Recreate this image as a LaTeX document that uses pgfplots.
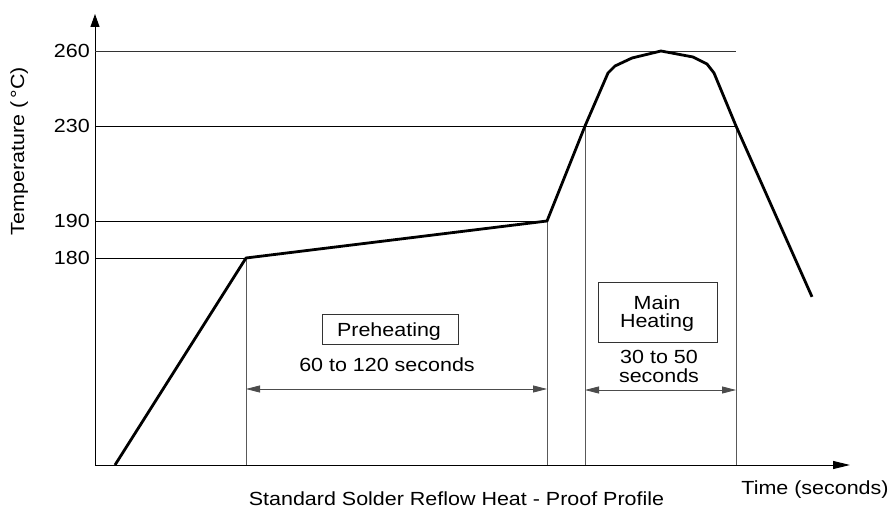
\documentclass[border=0pt]{standalone}
\usepackage{fontspec}
\setmainfont{Liberation Sans}[FakeStretch=1.13]
\usepackage{pgfplots}
\pgfplotsset{compat=1.18}
\usetikzlibrary{arrows.meta}

\begin{document}
\begin{tikzpicture}[font=\fontsize{19pt}{22pt}\selectfont]
\path[use as bounding box] (0,0) rectangle (890pt,-510pt);
\begin{axis}[
  at={(95pt,-465pt)}, anchor=south west,
  scale only axis, width=755pt, height=451pt,
  xmin=95, xmax=850, ymin=124.054, ymax=274.8,
  y coord trafo/.code={\pgfmathparse{#1<190 ? 207+(#1-180)*3.7 : (#1<230 ? 244+(#1-190)*2.375 : 339+(#1-230)*2.5)}},
  axis lines=left,
  x axis line style={line width=1pt, -{Triangle[length=17pt,width=8pt]}},
  y axis line style={line width=1pt, -{Triangle[length=13pt,width=9pt]}},
  xtick=\empty,
  ytick={180,190,230,260}, yticklabels={180,190,230,260},
  major tick length=0pt,
  yticklabel style={inner sep=0pt, anchor=east, xshift=-5pt},
  /pgf/number format/assume math mode=true,
  clip=false,
]
% horizontal guide lines
\addplot[black!80, line width=0.8pt, forget plot] coordinates {(95,260) (736,260)};
\addplot[black, line width=0.8pt, forget plot] coordinates {(95,230) (736,230)};
\addplot[black, line width=0.8pt, forget plot] coordinates {(95,190) (547,190)};
\addplot[black, line width=0.8pt, forget plot] coordinates {(95,180) (246,180)};
% vertical guide lines
\addplot[black!65, line width=0.8pt, forget plot] coordinates {(246,180) (246,124.054)};
\addplot[black!65, line width=0.8pt, forget plot] coordinates {(547,190) (547,124.054)};
\addplot[black!65, line width=0.8pt, forget plot] coordinates {(585,230) (585,124.054)};
\addplot[black!65, line width=0.8pt, forget plot] coordinates {(736,230) (736,124.054)};
% reflow profile
\addplot[black, line width=2.8pt, line join=round] coordinates {
  (115,124.054) (246,180) (547,190) (585,230) (608,251.2) (615,254)
  (632,257.2) (661,260) (693,257.6) (707,254.8) (714,251.2) (736,230) (812,169.5)
};
\end{axis}
% dimension arrows
\draw[black!70, line width=0.8pt, {Triangle[length=14pt,width=7pt]}-{Triangle[length=14pt,width=7pt]}] (246pt,-389pt) -- (547pt,-389pt);
\draw[black!70, line width=0.8pt, {Triangle[length=14pt,width=7pt]}-{Triangle[length=14pt,width=7pt]}] (585pt,-390pt) -- (736pt,-390pt);
% boxes
\draw[black!80, line width=0.8pt] (322pt,-314pt) rectangle (458pt,-344pt);
\node[anchor=base] at (389pt,-336pt) {Preheating};
\node[anchor=base] at (387pt,-371pt) {60 to 120 seconds};
\draw[black!80, line width=0.8pt] (598pt,-282pt) rectangle (717pt,-342pt);
\node[anchor=base] at (657pt,-309pt) {Main};
\node[anchor=base] at (657pt,-327pt) {Heating};
\node[anchor=base] at (659pt,-363pt) {30 to 50};
\node[anchor=base] at (659pt,-382pt) {seconds};
% axis titles
\node[anchor=base] at (815pt,-494pt) {Time (seconds)};
\node[anchor=base] at (456.5pt,-505pt) {Standard Solder Reflow Heat - Proof Profile};
\node[rotate=90, anchor=base] at (24pt,-151pt) {Temperature (\,°C)};
\end{tikzpicture}
\end{document}
